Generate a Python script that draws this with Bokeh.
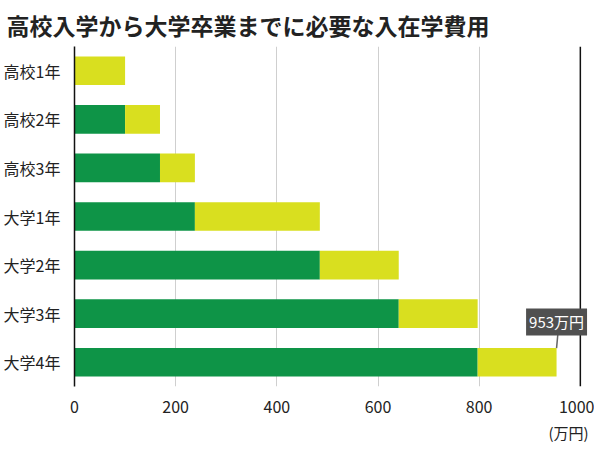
from bokeh.plotting import figure
from bokeh.models import (ColumnDataSource, Range1d, FixedTicker, Span, Label,
                          Legend, LegendItem, LinearAxis)
from bokeh.embed import file_html
from bokeh.resources import INLINE

categories = ["高校1年", "高校2年", "高校3年", "大学1年", "大学2年", "大学3年", "大学4年"]
cumulative = [0, 100, 169, 238, 485, 641, 797]   # 前年までの累計
annual = [100, 69, 69, 247, 156, 156, 156]       # 1年間の費用
x_ticks = [0, 200, 400, 600, 800, 1000]
series_names = ["前年までの累計", "1年間の費用"]
unit = "万円"

GREEN = "#0e9447"
YELLOW = "#d9df1f"
FONT = "Noto Sans CJK JP"

idx = list(range(len(categories)))
src = ColumnDataSource(dict(idx=idx, cum=cumulative, ann=annual))
total = cumulative[-1] + annual[-1]

p = figure(frame_width=520, frame_height=340, output_backend="svg", toolbar_location=None,
           x_range=Range1d(0, 1028), y_range=Range1d(len(categories) - 0.5, -0.5),
           min_border_left=64, min_border_right=0, min_border_top=40,
           min_border_bottom=0)
p.outline_line_color = None
p.background_fill_color = "white"

rs = p.hbar_stack(["cum", "ann"], y="idx", height=0.59, color=[GREEN, YELLOW],
                  line_color=None, source=src)

# axes
p.xaxis.ticker = FixedTicker(ticks=x_ticks)
p.xaxis.axis_line_color = None
p.xaxis.major_tick_line_color = None
p.xaxis.minor_tick_line_color = None
p.xaxis.major_label_standoff = 8
p.xaxis.major_label_text_font = FONT
p.xaxis.major_label_text_font_size = "16px"
p.xaxis.major_label_text_color = "#222222"

# unit row under the last tick
unit_axis = LinearAxis(ticker=FixedTicker(ticks=[x_ticks[-1]]),
                       major_label_overrides={x_ticks[-1]: f"({unit})"},
                       axis_line_color=None, major_tick_line_color=None,
                       minor_tick_line_color=None, major_label_standoff=0,
                       major_label_text_font=FONT, major_label_text_font_size="15px",
                       major_label_text_color="#222222")
p.add_layout(unit_axis, "below")

p.yaxis.ticker = FixedTicker(ticks=idx)
p.yaxis.major_label_overrides = {i: c for i, c in zip(idx, categories)}
p.yaxis.axis_line_color = "#111111"
p.yaxis.axis_line_width = 1.5
p.yaxis.major_tick_line_color = None
p.yaxis.minor_tick_line_color = None
p.yaxis.major_label_standoff = 8
p.yaxis.major_label_text_font = FONT
p.yaxis.major_label_text_font_size = "16px"
p.yaxis.major_label_text_color = "#222222"

p.ygrid.grid_line_color = None
p.xgrid.ticker = FixedTicker(ticks=x_ticks[1:-1])
p.xgrid.grid_line_color = "#cfcfcf"
p.xgrid.grid_line_width = 1
p.xgrid.level = "underlay"

p.add_layout(Span(location=x_ticks[-1], dimension="height", line_color="#111111",
                  line_width=1.5))

# title
p.title.text = "高校入学から大学卒業までに必要な入在学費用"
p.title.text_font = FONT
p.title.text_font_size = "23px"
p.title.text_font_style = "bold"
p.title.text_color = "#222222"
p.title.align = "left"
p.title.offset = -68
p.title.standoff = 10

# callout
p.segment(x0=[total], y0=[len(categories) - 1 - 0.29], x1=[total + 3],
          y1=[len(categories) - 1 - 0.63], line_color="#666666", line_width=1.5)
p.add_layout(Label(x=total, y=len(categories) - 1 - 0.83, text=f"{total}{unit}",
                   text_align="center", text_baseline="middle", text_color="white",
                   text_font=FONT, text_font_size="15px",
                   background_fill_color="#505050", padding=3))

legend = Legend(items=[LegendItem(label=n, renderers=[r]) for n, r in zip(series_names, rs)],
                location="center", orientation="horizontal", padding=0, margin=0,
                spacing=30, glyph_width=13, glyph_height=13, label_standoff=7,
                label_height=16,
                label_text_font=FONT, label_text_font_size="16px",
                label_text_color="#222222", border_line_color=None,
                background_fill_alpha=0)
p.add_layout(legend, "below")

open("out.html", "w").write(file_html(p, INLINE))
